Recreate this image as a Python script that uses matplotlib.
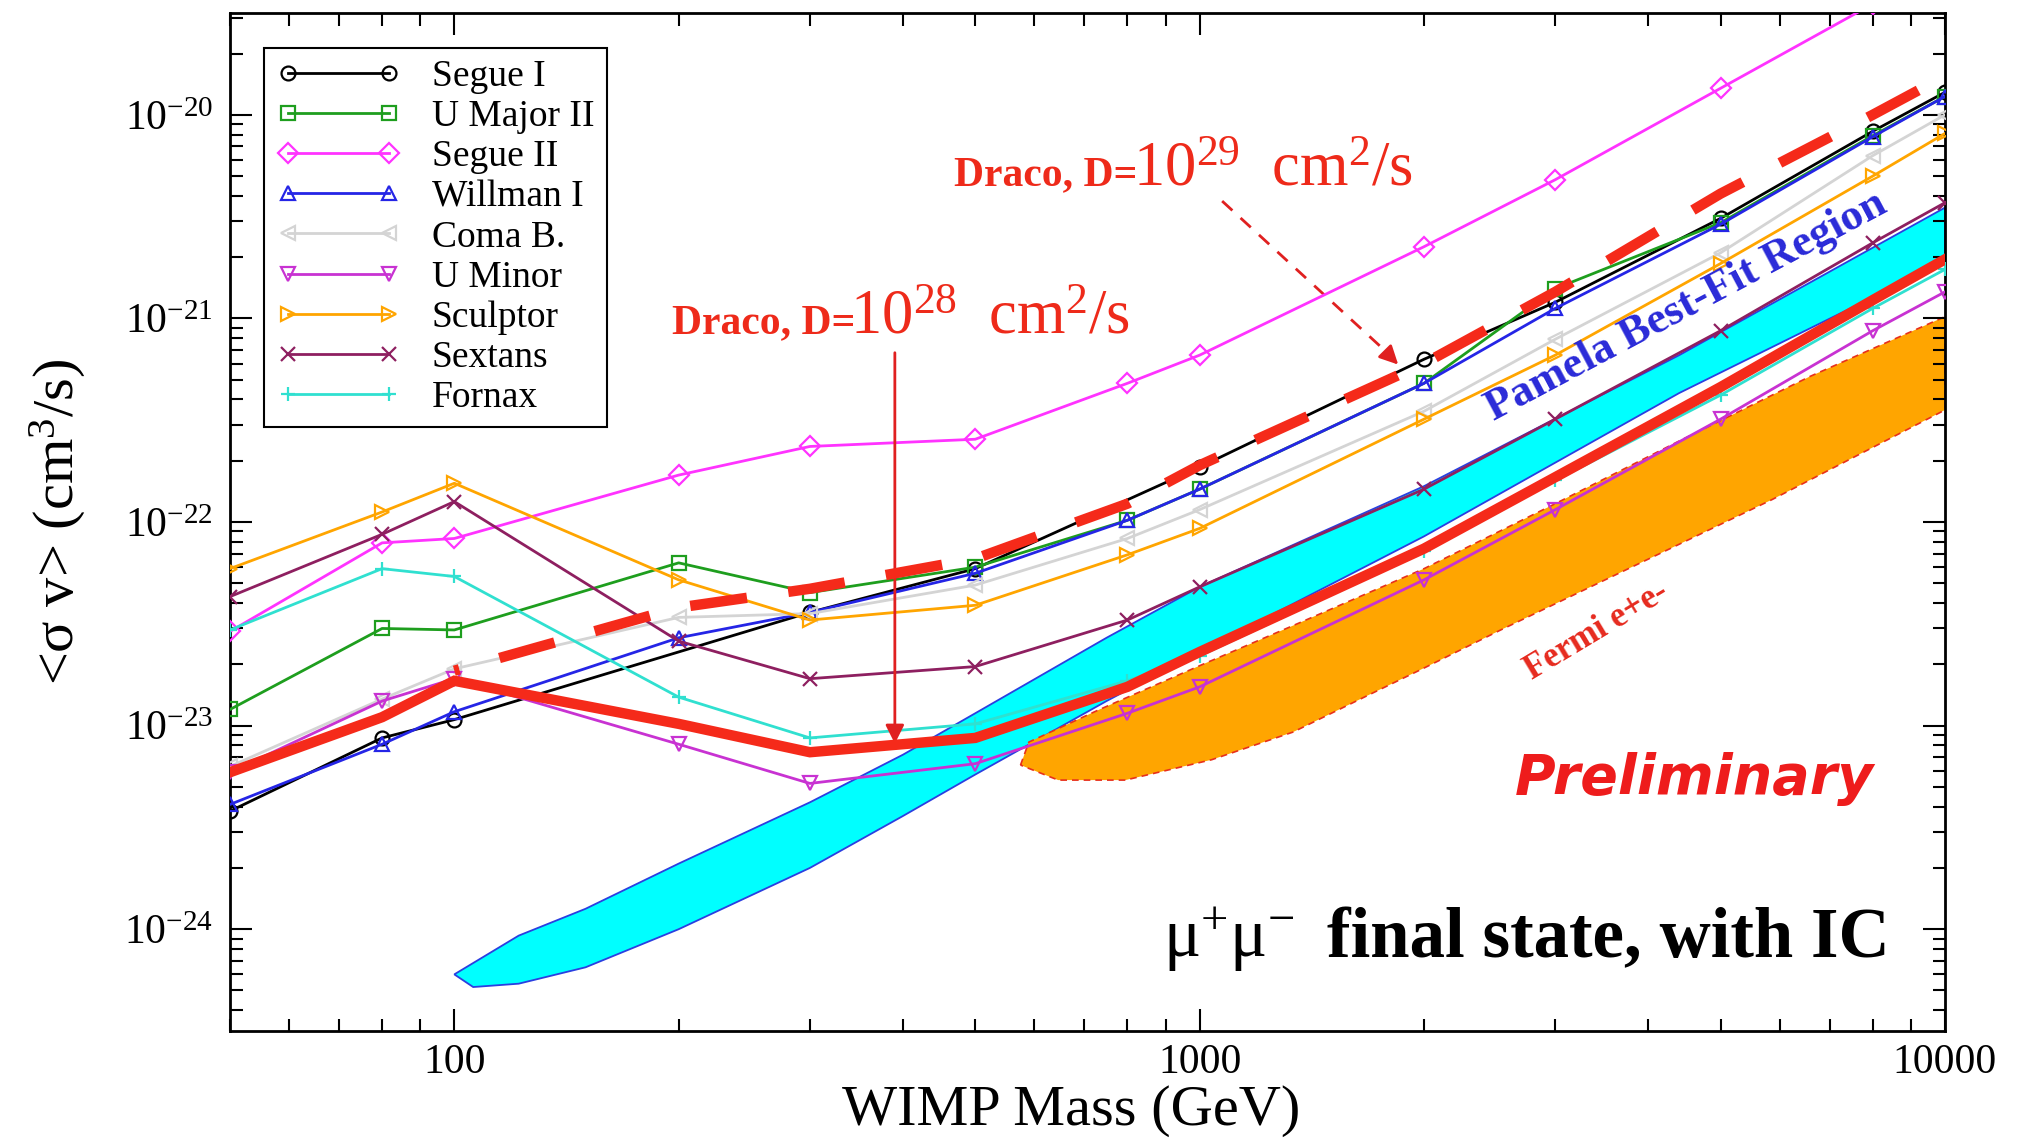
import numpy as np
import matplotlib.pyplot as plt
from matplotlib.ticker import LogLocator, FixedLocator, FuncFormatter, NullFormatter

plt.rcParams['font.family'] = 'Liberation Serif'
plt.rcParams['mathtext.fontset'] = 'custom'
plt.rcParams['mathtext.rm'] = 'Liberation Serif'
plt.rcParams['mathtext.it'] = 'Liberation Serif:italic'
plt.rcParams['mathtext.bf'] = 'Liberation Serif:bold'

# WIMP masses (GeV)
mass = [50, 80, 100, 200, 300, 500, 800, 1000, 2000, 3000, 5000, 8000, 10000]
segue1_mass = [50, 80, 100, 300, 500, 1000, 2000, 3000, 5000, 8000, 10000]
draco29_mass = [100, 200, 300, 500, 800, 1000, 2000, 3000, 5000, 8000, 10000]

# <sigma v> limits (cm^3/s)
segue1 = [3.8e-24, 8.7e-24, 1.07e-23, 3.6e-23, 5.9e-23, 1.86e-22, 6.3e-22, 1.2e-21, 3.1e-21, 8.3e-21, 1.29e-20]
umajor2 = [1.2e-23, 3.0e-23, 2.95e-23, 6.3e-23, 4.5e-23, 6.0e-23, 1.02e-22, 1.45e-22, 4.8e-22, 1.4e-21, 2.95e-21, 7.9e-21, 1.23e-20]
segue2 = [2.9e-23, 7.9e-23, 8.3e-23, 1.7e-22, 2.35e-22, 2.55e-22, 4.8e-22, 6.6e-22, 2.25e-21, 4.8e-21, 1.35e-20, 3.5e-20, 5.2e-20]
willman1 = [4.1e-24, 8.1e-24, 1.17e-23, 2.7e-23, 3.6e-23, 5.6e-23, 1.02e-22, 1.45e-22, 4.8e-22, 1.12e-21, 2.9e-21, 7.8e-21, 1.23e-20]
comab = [6.3e-24, 1.35e-23, 1.9e-23, 3.4e-23, 3.55e-23, 4.9e-23, 8.3e-23, 1.15e-22, 3.5e-22, 7.9e-22, 2.1e-21, 6.3e-21, 1.0e-20]
uminor = [5.9e-24, 1.32e-23, 1.7e-23, 8.1e-24, 5.2e-24, 6.5e-24, 1.15e-23, 1.55e-23, 5.2e-23, 1.15e-22, 3.2e-22, 8.7e-22, 1.35e-21]
sculptor = [5.9e-23, 1.12e-22, 1.55e-22, 5.2e-23, 3.3e-23, 3.9e-23, 6.9e-23, 9.3e-23, 3.2e-22, 6.6e-22, 1.86e-21, 5.0e-21, 8.1e-21]
sextans = [4.3e-23, 8.7e-23, 1.26e-22, 2.6e-23, 1.7e-23, 1.95e-23, 3.3e-23, 4.8e-23, 1.45e-22, 3.2e-22, 8.7e-22, 2.35e-21, 3.7e-21]
fornax = [2.95e-23, 5.9e-23, 5.4e-23, 1.38e-23, 8.7e-24, 1.02e-23, 1.66e-23, 2.2e-23, 7.2e-23, 1.6e-22, 4.2e-22, 1.12e-21, 1.74e-21]
draco28 = [5.9e-24, 1.1e-23, 1.66e-23, 1.02e-23, 7.4e-24, 8.7e-24, 1.55e-23, 2.3e-23, 7.4e-23, 1.66e-22, 4.6e-22, 1.23e-21, 1.95e-21]
draco29 = [1.86e-23, 3.8e-23, 4.7e-23, 6.6e-23, 1.23e-22, 1.9e-22, 6.0e-22, 1.35e-21, 4.1e-21, 1.0e-20, 1.55e-20]

# Pamela best-fit region outline
pamela_up_mass = [100, 122, 150, 200, 300, 400, 500, 750, 1000, 2000, 4400, 10000]
pamela_up = [6.0e-25, 9.3e-25, 1.26e-24, 2.1e-24, 4.2e-24, 7.2e-24, 1.15e-23, 2.7e-23, 4.8e-23, 1.5e-22, 6.6e-22, 3.5e-21]
pamela_lo_mass = [100, 106, 122, 150, 200, 300, 400, 500, 750, 1000, 2000, 4400, 10000]
pamela_lo = [6.0e-25, 5.2e-25, 5.4e-25, 6.5e-25, 1.0e-24, 2.0e-24, 3.6e-24, 5.75e-24, 1.32e-23, 2.3e-23, 8.5e-23, 4.3e-22, 1.9e-21]

# Fermi e+e- region outline
fermi_up_mass = [575, 590, 734, 1010, 1335, 2000, 3000, 4400, 6600, 10000]
fermi_up = [6.4e-24, 8.3e-24, 1.2e-23, 2.0e-23, 3.1e-23, 5.9e-23, 1.23e-22, 2.5e-22, 5.2e-22, 1.02e-21]
fermi_lo_mass = [575, 646, 795, 1038, 1335, 1663, 1990, 2535, 3614, 5865, 10000]
fermi_lo = [6.4e-24, 5.4e-24, 5.4e-24, 6.8e-24, 9.3e-24, 1.38e-23, 1.9e-23, 2.95e-23, 5.5e-23, 1.29e-22, 3.55e-22]

series = [
    ('Segue I', segue1_mass, segue1, 'black', 'o'),
    ('U Major II', mass, umajor2, '#1e9e1e', 's'),
    ('Segue II', mass, segue2, '#ff33ff', 'D'),
    ('Willman I', mass, willman1, '#2525e6', '^'),
    ('Coma B.', mass, comab, '#d4d4d4', '<'),
    ('U Minor', mass, uminor, '#c832d2', 'v'),
    ('Sculptor', mass, sculptor, '#ffa500', '>'),
    ('Sextans', mass, sextans, '#8e1f60', 'x'),
    ('Fornax', mass, fornax, '#30e0d0', '+'),
]

fig = plt.figure(figsize=(20.26, 11.41), dpi=100)
ax = fig.add_axes([0.1135, 0.0964, 0.8465, 0.8922])
ax.set_xscale('log')
ax.set_yscale('log')

# shaded regions
ax.fill(np.concatenate([pamela_up_mass, pamela_lo_mass[::-1]]),
        np.concatenate([pamela_up, pamela_lo[::-1]]),
        facecolor='#00ffff', edgecolor='#2a3fe0', lw=1.3, zorder=1)
ax.fill(np.concatenate([fermi_up_mass, fermi_lo_mass[::-1]]),
        np.concatenate([fermi_up, fermi_lo[::-1]]),
        facecolor='#ffa500', edgecolor='#e8301c', lw=1.2, ls=(0, (4, 3)), zorder=1)

for name, m, v, c, mk in series:
    ax.plot(m, v, color=c, lw=2.0, marker=mk, ms=10, mfc='none', mec=c, mew=1.6,
            label=name, zorder=3)

ax.plot(mass, draco28, color='#f52a1a', lw=7.5, solid_joinstyle='miter', zorder=4)
ax.plot(draco29_mass, draco29, color='#f52a1a', lw=7.5, ls=(5.0, (5.5, 4.0)), zorder=4)

ax.set_xlim(50, 10000)
ax.set_ylim(10**-24.5, 10**-19.5)

ax.xaxis.set_major_locator(FixedLocator([100, 1000, 10000]))
ax.xaxis.set_major_formatter(FuncFormatter(lambda x, p: '%d' % x))
ax.xaxis.set_minor_locator(LogLocator(base=10, subs=np.arange(2, 10), numticks=20))
ax.xaxis.set_minor_formatter(NullFormatter())
ax.yaxis.set_major_locator(FixedLocator([1e-24, 1e-23, 1e-22, 1e-21, 1e-20]))
ax.yaxis.set_major_formatter(FuncFormatter(lambda y, p: r'$10^{%d}$' % round(np.log10(y))))
ax.yaxis.set_minor_locator(LogLocator(base=10, subs=np.arange(2, 10), numticks=20))
ax.yaxis.set_minor_formatter(NullFormatter())

ax.tick_params(which='both', direction='in', top=True, right=True, width=1.5, labelsize=30)
ax.tick_params(which='major', length=16, pad=12)
ax.tick_params(axis='x', which='major', pad=9)
ax.tick_params(which='minor', length=9)
for s in ax.spines.values():
    s.set_linewidth(2)

ax.set_xlabel('WIMP Mass (GeV)', fontsize=42)
ax.xaxis.set_label_coords(0.4905, -0.053)
ax.set_ylabel('<σ v> (cm$^{3}$/s)', fontsize=42)
ax.yaxis.set_label_coords(-0.083, 0.5)

leg = ax.legend(loc='upper left', bbox_to_anchor=(0.02, 0.966), borderaxespad=0,
                fontsize=27, numpoints=2, handlelength=3.3, handletextpad=0.85,
                labelspacing=0.15, fancybox=False, framealpha=1, borderpad=0.32)
leg.get_frame().set_edgecolor('black')
leg.get_frame().set_linewidth(1.5)

red = '#ee2a1a'
# Draco labels: bold name, regular value
ax.text(0.2577, 0.685, 'Draco, D=', transform=ax.transAxes,
        color=red, fontsize=30, fontweight='bold', ha='left', va='baseline')
ax.text(0.3615, 0.685, r'$\mathregular{10^{28}\ \ cm^{2}/s}$', transform=ax.transAxes,
        color=red, fontsize=45, ha='left', va='baseline')
ax.text(0.422, 0.831, 'Draco, D=', transform=ax.transAxes,
        color=red, fontsize=30, fontweight='bold', ha='left', va='baseline')
ax.text(0.5265, 0.831, r'$\mathregular{10^{29}\ \ cm^{2}/s}$', transform=ax.transAxes,
        color=red, fontsize=45, ha='left', va='baseline')
ax.annotate('', xy=(390, 7.9e-24), xytext=(390, 7.0e-22),
            arrowprops=dict(arrowstyle='-|>', color='#e02020', lw=2, mutation_scale=28))
ax.plot([1072, 1800], [3.77e-21, 6.6e-22], color='#e02020', lw=2, ls=(0, (5, 4)))
ax.annotate('', xy=(1858, 5.8e-22), xytext=(1780, 6.8e-22),
            arrowprops=dict(arrowstyle='-|>', color='#e02020', lw=2, mutation_scale=28))

ax.text(0.849, 0.712, 'Pamela Best-Fit Region', transform=ax.transAxes, color='#2a2ad8',
        fontsize=32, fontweight='bold', rotation=28, ha='center', va='center', rotation_mode='anchor')
ax.text(0.797, 0.393, 'Fermi e+e-', transform=ax.transAxes, color='#e62a1e',
        fontsize=25, fontweight='bold', rotation=31, ha='center', va='center', rotation_mode='anchor')
ax.text(0.8538, 0.2475, 'Preliminary', transform=ax.transAxes, color='#ee1c1c',
        fontsize=40, fontweight='bold', style='italic', family='DejaVu Sans',
        ha='center', va='center')
ax.text(0.544, 0.09, r'μ$^{+}$μ$^{-}$', transform=ax.transAxes,
        color='black', fontsize=50, ha='left', va='center')
ax.text(0.9676, 0.09, 'final state, with IC', transform=ax.transAxes,
        color='black', fontsize=51, fontweight='bold', ha='right', va='center')

fig.savefig('out.png', dpi=100)
